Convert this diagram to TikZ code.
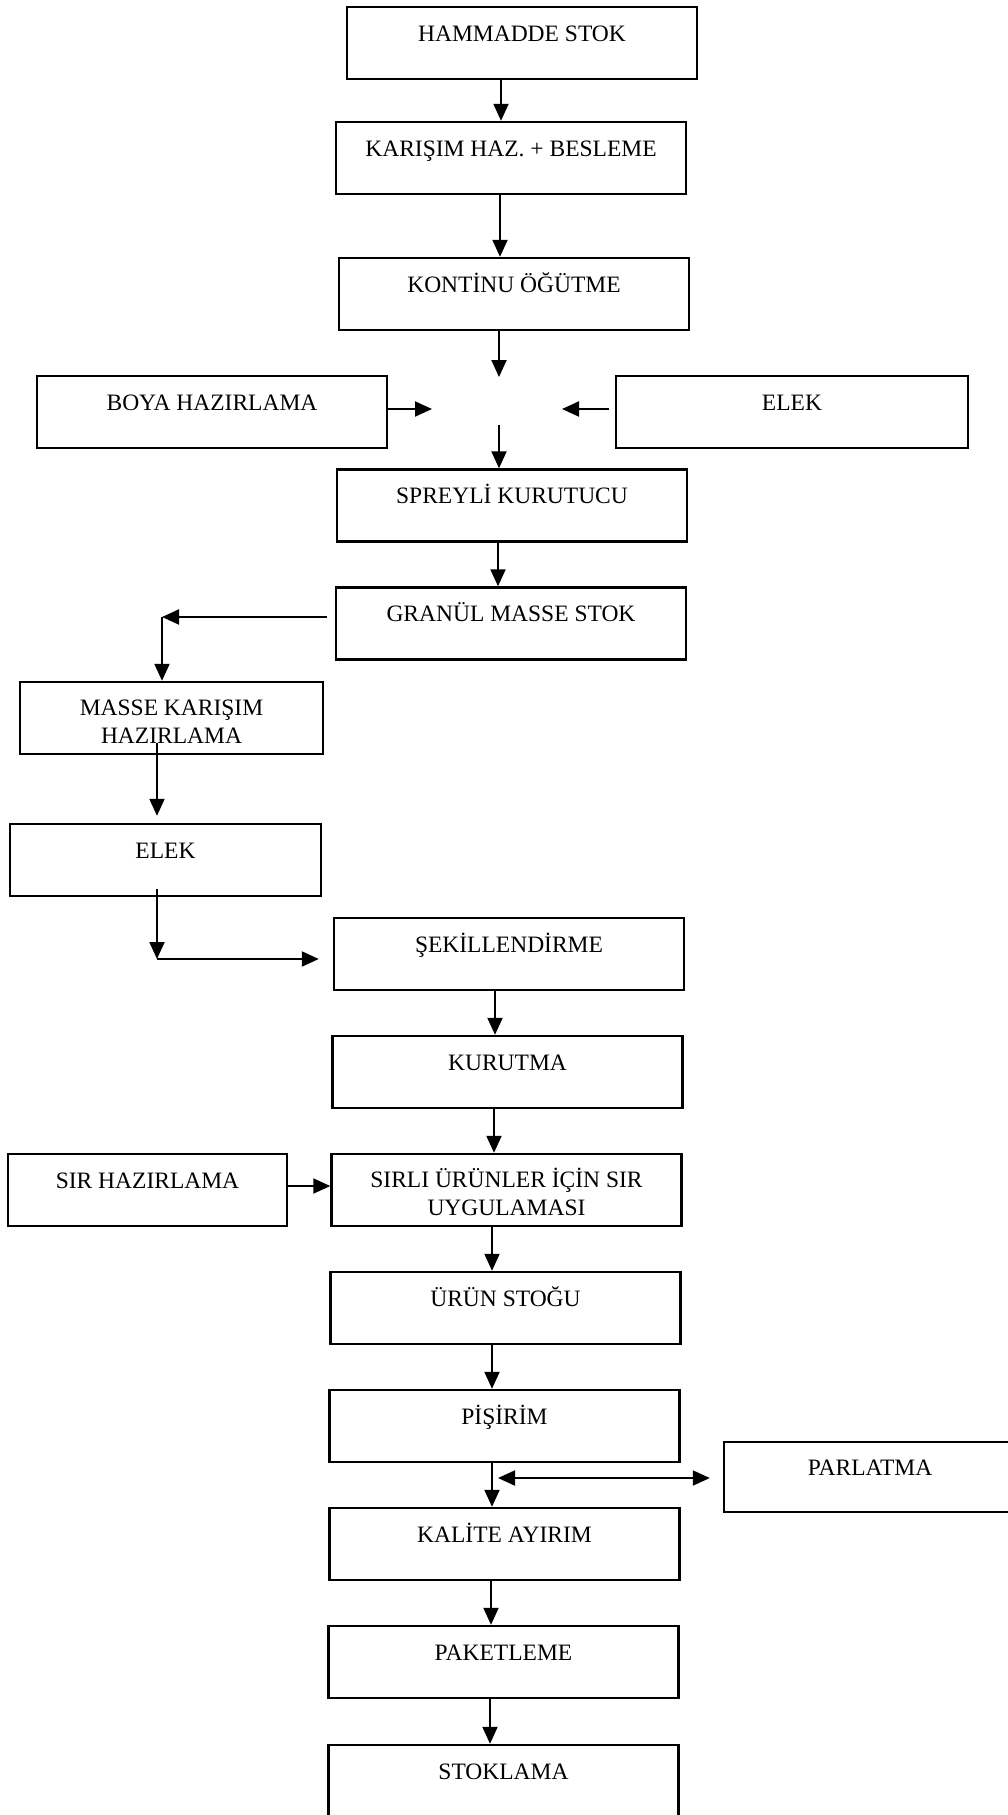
\documentclass[tikz,border=0pt]{standalone}
\usepackage{fontspec}
\setmainfont{Liberation Serif}
\usetikzlibrary{arrows.meta}

\begin{document}
\begin{tikzpicture}[x=1pt, y=-1pt, >={Triangle[length=17pt,width=15pt]}]
% Stili per i blocchi e le frecce
\tikzset{blocco/.style={draw, line width=2.4pt, minimum width=350pt, minimum height=72pt, inner sep=0pt,
    align=center, text height=14pt, text depth=18pt, font=\fontsize{23.5}{28}\selectfont}}
\tikzset{duerighe/.style={text height=56pt, text depth=6pt}}
\tikzset{freccia/.style={->, line width=2pt}}

% Area del disegno (il foglio taglia PARLATMA e STOKLAMA)
\useasboundingbox (0,0) rectangle (1008,1815);
\clip (0,0) rectangle (1008,1815);

% --- COLONNA PRINCIPALE ---
\node[blocco] (ham)   at (522,43)     {HAMMADDE STOK};
\node[blocco] (kar)   at (511,158)    {KARIŞIM HAZ. + BESLEME};
\node[blocco] (kon)   at (514,294)    {KONTİNU ÖĞÜTME};
\node[blocco] (spr)   at (512,505.5)  {SPREYLİ KURUTUCU};
\node[blocco] (gra)   at (511,623.5)  {GRANÜL MASSE STOK};
\node[blocco] (sek)   at (509,954)    {ŞEKİLLENDİRME};
\node[blocco] (kur)   at (507.5,1072) {KURUTMA};
\node[blocco, duerighe] (sirli) at (506.5,1190) {SIRLI ÜRÜNLER İÇİN SIR\\UYGULAMASI};
\node[blocco] (urun)  at (505.5,1308) {ÜRÜN STOĞU};
\node[blocco] (pis)   at (504.5,1426) {PİŞİRİM};
\node[blocco] (kal)   at (504.5,1544) {KALİTE AYIRIM};
\node[blocco] (pak)   at (503.5,1662) {PAKETLEME};
\node[blocco] (stok)  at (503.5,1781) {STOKLAMA};

% --- BLOCCHI LATERALI ---
\node[blocco] (boya)  at (212,412)    {BOYA HAZIRLAMA};
\node[blocco, minimum width=352pt] (elek1) at (792,412) {ELEK};
\node[blocco, minimum width=303pt, duerighe] (masse) at (171.5,718) {MASSE KARIŞIM\\HAZIRLAMA};
\node[blocco, minimum width=311pt] (elek2) at (165.5,860) {ELEK};
\node[blocco, minimum width=279pt] (sirhaz) at (147.5,1190) {SIR HAZIRLAMA};
\node[blocco, minimum width=292pt, minimum height=70pt] (par) at (870,1477) {PARLATMA};

% Punti liberi delle frecce
\coordinate (giu)  at (499,377);
\coordinate (su)   at (499,425);
\coordinate (sx)   at (432,409);
\coordinate (dx)   at (562,409);
\coordinate (ang1) at (162,617);
\coordinate (m1)   at (157,743);
\coordinate (e1)   at (157,889);
\coordinate (ang2) at (157,959);
\coordinate (pp)   at (498,1478);

% --- FRECCE VERTICALI ---
\foreach \a/\b/\x in {ham/kar/501, kar/kon/500, spr/gra/498, sek/kur/495, kur/sirli/494,
                      sirli/urun/492, urun/pis/492, pis/kal/492, kal/pak/491, pak/stok/490} {
    \coordinate (xx) at (\x,0);
    \draw[freccia] (\a.south -| xx) -- (\b.north -| xx);
}

% Confluenza di BOYA e ELEK
\draw[freccia] (kon.south -| giu) -- (giu);
\draw[freccia] (su) -- (spr.north -| su);
\draw[freccia] (boya.east |- sx) -- (sx);
\draw[freccia] ([xshift=-6pt]elek1.west |- dx) -- (dx);

% Ramo sinistro
\draw[freccia] ([xshift=-8pt]gra.west |- ang1) -- (ang1);
\draw[freccia] (ang1) -- (masse.north -| ang1);
\draw[freccia] (m1) -- ([yshift=7pt]elek2.north -| m1);
\draw[freccia] (e1) -- (ang2);
\draw[freccia] (ang2) -- ([xshift=-14pt]sek.west |- ang2);

% Sir e parlatma
\draw[freccia] ([yshift=4pt]sirhaz.east) -- ([yshift=4pt]sirli.west);
\draw[freccia, <->] (pp) -- ([xshift=-13pt]par.west |- pp);

\end{tikzpicture}
\end{document}
